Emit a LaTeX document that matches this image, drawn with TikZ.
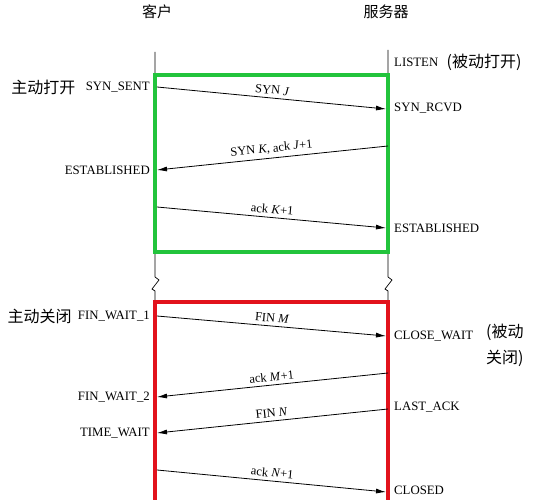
\documentclass[tikz,border=0pt]{standalone}
\usepackage{fontspec}
\setmainfont{Liberation Serif}
\newfontfamily\cjkfont{Noto Sans CJK SC}
\usetikzlibrary{arrows.meta}
\definecolor{boxgreen}{RGB}{34,196,60}
\definecolor{boxred}{RGB}{226,18,28}
\begin{document}
\begin{tikzpicture}[x=1pt,y=-1pt,
  state/.style={font=\fontsize{12.8}{14}\selectfont, inner sep=1pt},
  zh/.style={font=\cjkfont\fontsize{16}{18}\selectfont, inner sep=0pt},
  msg/.style={-{Latex[length=10pt,width=5pt]}, line width=0.8pt},
  msglabel/.style={font=\fontsize{12.5}{14}\selectfont, sloped, above, midway, inner sep=3.5pt},
  life/.style={line width=0.7pt},
  frame/.style={line width=3.6pt}]
\useasboundingbox (0,0) rectangle (539,500);
\clip (0,0) rectangle (539,500);
% titles
\node[zh, font=\cjkfont\fontsize{15}{17}\selectfont] (tc) at (157,12) {客户};
\node[zh, font=\cjkfont\fontsize{15}{17}\selectfont] (ts) at (386,12) {服务器};
% lifelines with break marks
\coordinate (ctop) at (155,52);
\coordinate (stop) at (388,50);
\coordinate (cbot) at (155,510);
\coordinate (sbot) at (388,510);
\draw[life] (ctop) -- (155,277) -- (159,280) -- (152,289) -- (155,291) -- (cbot);
\draw[life] (stop) -- (388,277) -- (392,280) -- (385,289) -- (388,291) -- (sbot);
% frames
\draw[frame, boxgreen] (155,75) rectangle (388,252);
\draw[frame, boxred] (155,302) rectangle (388,530);
% endpoints
\coordinate (c1) at (157,87);  \coordinate (s1) at (386,109);
\coordinate (s2) at (388,146); \coordinate (c2) at (157,170);
\coordinate (c3) at (157,207); \coordinate (s3) at (386,228);
\coordinate (c4) at (157,316); \coordinate (s4) at (386,336);
\coordinate (s5) at (388,373); \coordinate (c5) at (157,397);
\coordinate (s6) at (388,409); \coordinate (c6) at (157,433);
\coordinate (c7) at (157,470); \coordinate (s7) at (386,492);
% messages
\draw[msg] (c1) -- node[msglabel] {SYN \textit{J}} (s1);
\draw[msg] (s2) -- node[msglabel] {SYN \textit{K}, ack \textit{J}+1} (c2);
\draw[msg] (c3) -- node[msglabel] {ack \textit{K}+1} (s3);
\draw[msg] (c4) -- node[msglabel] {FIN \textit{M}} (s4);
\draw[msg] (s5) -- node[msglabel] {ack \textit{M}+1} (c5);
\draw[msg] (s6) -- node[msglabel] {FIN \textit{N}} (c6);
\draw[msg] (c7) -- node[msglabel] {ack \textit{N}+1} (s7);
% client states
\node[state, anchor=east] (synsent) at (151,87) {SYN\_SENT};
\node[zh, anchor=east] (aopen) at ([xshift=-9pt]synsent.west) {主动打开};
\node[state, anchor=east] (cest) at (151,170) {ESTABLISHED};
\node[state, anchor=east] (fw1) at (151,316) {FIN\_WAIT\_1};
\node[zh, anchor=east] (aclose) at ([xshift=-5pt]fw1.west) {主动关闭};
\node[state, anchor=east] (fw2) at (151,397) {FIN\_WAIT\_2};
\node[state, anchor=east] (tw) at (151,433) {TIME\_WAIT};
% server states
\node[state, anchor=west] (listen) at (393,62) {LISTEN};
\node[zh, anchor=west] (popen) at ([xshift=7pt]listen.east) {(被动打开)};
\node[state, anchor=west] (rcvd) at (393,108) {SYN\_RCVD};
\node[state, anchor=west] (sest) at (393,228) {ESTABLISHED};
\node[state, anchor=west] (cw) at (393,336) {CLOSE\_WAIT};
\node[zh, anchor=north west, align=left, font=\cjkfont\fontsize{16}{26}\selectfont] (pclose) at (486,324) {(被动\\关闭)};
\node[state, anchor=west] (lack) at (393,407) {LAST\_ACK};
\node[state, anchor=west] (closed) at (393,490) {CLOSED};
\end{tikzpicture}
\end{document}
